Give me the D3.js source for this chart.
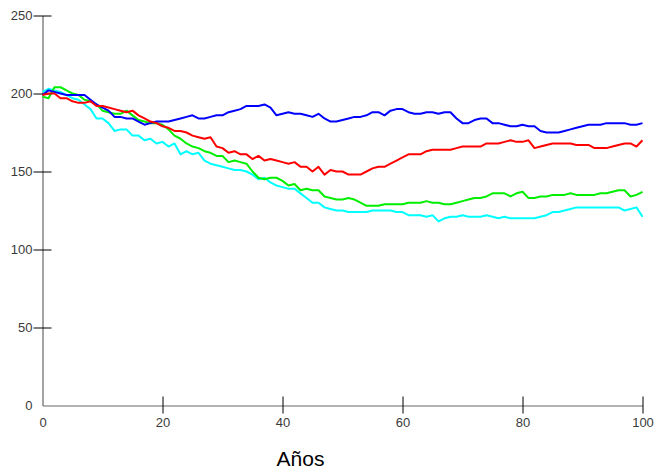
<!DOCTYPE html>
<html>
<head>
<meta charset="utf-8">
<script src="https://cdn.jsdelivr.net/npm/d3@7/dist/d3.min.js"></script>
<style>
  html, body { margin: 0; padding: 0; background: #fff; }
  svg { display: block; }
</style>
</head>
<body>
<svg id="chart" width="655" height="471"></svg>
<script>
// Simulated population trajectories over 100 years, one value per year.
const years = d3.range(0, 101);

const blue = [199,202,201,200,199,199,199,199,196,193,191,189,185,185,184,184,182,180,181,182,
  182,182,183,184,185,186,184,184,185,186,186,188,189,190,192,192,192,193,191,186,
  187,188,187,187,186,185,187,184,182,182,183,184,185,185,186,188,188,186,189,190,
  190,188,187,187,188,188,187,188,188,184,181,181,183,184,184,181,181,180,179,179,
  180,179,179,176,175,175,175,176,177,178,179,180,180,180,181,181,181,181,180,180,181];

const red = [199,200,200,197,197,195,194,194,195,192,192,191,190,189,188,189,186,184,182,181,
  179,178,176,176,175,173,172,171,172,166,165,162,163,161,161,158,160,157,158,157,
  156,155,156,153,153,150,153,148,151,150,150,148,148,148,150,152,153,153,155,157,
  159,161,161,161,163,164,164,164,164,165,166,166,166,166,168,168,168,169,170,169,
  169,170,165,166,167,168,168,168,168,167,167,167,165,165,165,166,167,168,168,166,170];

const green = [198,197,204,204,202,200,199,196,195,193,189,188,187,187,189,186,183,182,181,181,
  180,177,173,171,168,166,165,163,162,160,160,156,157,156,155,150,146,145,146,146,
  144,141,142,138,139,138,138,134,133,132,132,133,132,130,128,128,128,129,129,129,
  129,130,130,130,131,130,130,129,129,130,131,132,133,133,134,136,136,136,134,136,
  137,133,133,134,134,135,135,135,136,135,135,135,135,136,136,137,138,138,134,135,137];

const cyan = [201,203,202,201,199,197,196,193,190,184,184,181,176,177,177,173,173,170,171,168,
  169,166,168,161,163,161,162,157,155,154,153,152,151,151,150,148,145,146,143,141,
  140,139,139,136,133,130,130,127,126,125,125,124,124,124,124,125,125,125,125,124,
  124,122,122,122,121,122,118,120,121,121,122,121,121,121,122,121,120,121,120,120,
  120,120,120,121,122,124,124,125,126,127,127,127,127,127,127,127,127,125,126,127,121];

const xTicks = [0, 20, 40, 60, 80, 100];
const yTicks = [0, 50, 100, 150, 200, 250];
const xTitle = "Años";

// Drawing order: later series sit on top.
const series = [
  { values: cyan,  color: "#00ffff" },
  { values: green, color: "#00ee00" },
  { values: blue,  color: "#0000ff" },
  { values: red,   color: "#ff0000" }
];

const svg = d3.select("#chart");
const x = d3.scaleLinear().domain([0, 100]).range([42.5, 642.5]);
const y = d3.scaleLinear().domain([0, 250]).range([405.5, 15.5]);

const font = "'Liberation Sans', Arial, sans-serif";

// Y axis
const gy = svg.append("g")
  .attr("transform", `translate(${x(0)},0)`)
  .call(d3.axisLeft(y).tickValues(yTicks).tickSizeOuter(0).tickSize(0).tickPadding(10));
gy.select(".domain").attr("stroke", "#666").attr("stroke-width", 1.2);
gy.selectAll(".tick line")
  .attr("x1", -9).attr("x2", 9)
  .attr("stroke", "#000").attr("stroke-width", 1)
  .filter(d => d === 0).remove();
gy.selectAll(".tick text")
  .attr("font-family", font).attr("font-size", 13).attr("fill", "#3a3a3a");

// X axis
const gx = svg.append("g")
  .attr("transform", `translate(0,${y(0)})`)
  .call(d3.axisBottom(x).tickValues(xTicks).tickSizeOuter(0).tickSize(0).tickPadding(12));
gx.select(".domain").attr("stroke", "#666").attr("stroke-width", 1.2);
gx.selectAll(".tick line")
  .attr("y1", -9).attr("y2", 8)
  .attr("stroke", "#000").attr("stroke-width", 1)
  .filter(d => d === 0).remove();
gx.selectAll(".tick text")
  .attr("font-family", font).attr("font-size", 13).attr("fill", "#3a3a3a");

// Axis title
svg.append("text")
  .attr("x", 300.5).attr("y", 466)
  .attr("text-anchor", "middle")
  .attr("font-family", font).attr("font-size", 21).attr("fill", "#000")
  .text(xTitle);

// Lines
const line = d3.line()
  .x((d, i) => x(years[i]))
  .y(d => y(d));

svg.append("g").selectAll("path")
  .data(series)
  .join("path")
  .attr("d", s => line(s.values))
  .attr("fill", "none")
  .attr("stroke", s => s.color)
  .attr("stroke-width", 2)
  .attr("stroke-linejoin", "round");
</script>
</body>
</html>
